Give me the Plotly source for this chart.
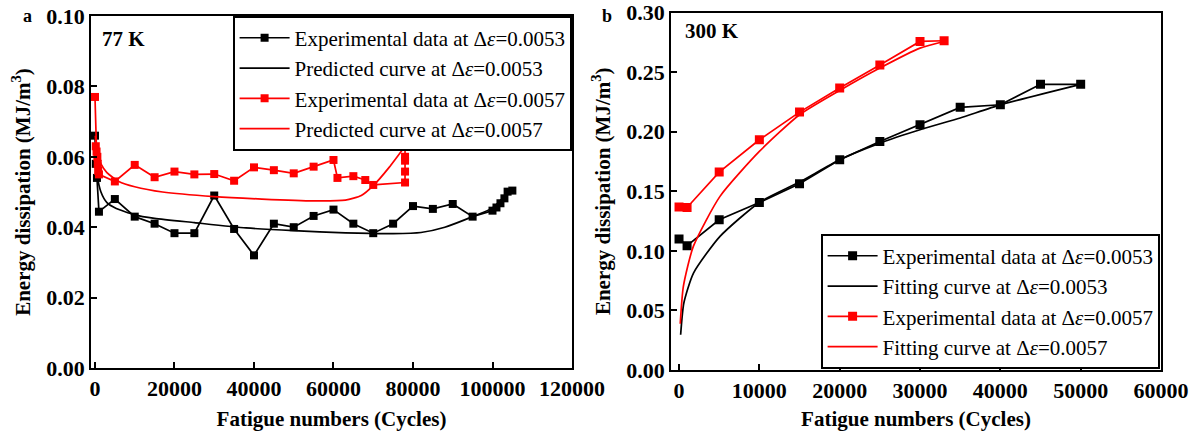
import plotly.graph_objects as go

# ---------------- Panel a (77 K) ----------------
a_exp53_x = [0, 200, 500, 1000, 5000, 10000, 15000, 20000, 25000, 30000, 35000, 40000,
             45000, 50000, 55000, 60000, 65000, 70000, 75000, 80000, 85000, 90000, 95000,
             100000, 101000, 102000, 103000, 103800, 105000]
a_exp53_y = [0.066, 0.058, 0.054, 0.0444, 0.048, 0.043, 0.041, 0.0383, 0.0383, 0.049, 0.0395,
             0.032, 0.041, 0.040, 0.0432, 0.045, 0.041, 0.0383, 0.041, 0.046, 0.0452, 0.0466,
             0.043, 0.0447, 0.0456, 0.0468, 0.0482, 0.0501, 0.0504]

a_pred53_x = [100, 500, 1500, 3000, 5000, 10000, 15000, 25000, 38000, 50000, 63000, 75000,
              82000, 88000, 95000, 100000, 104000]
a_pred53_y = [0.060, 0.055, 0.050, 0.047, 0.0455, 0.0435, 0.0425, 0.0413, 0.0398, 0.039,
              0.0384, 0.0382, 0.0385, 0.040, 0.043, 0.0455, 0.050]

a_exp57_x = [0, 200, 400, 600, 700, 800, 1000, 5000, 10000, 15000, 20000, 25000, 30000, 35000,
             40000, 45000, 50000, 55000, 60000, 61000, 65000, 68000, 70000, 78000, 78000,
             78000, 78000, 78000]
a_exp57_y = [0.077, 0.063, 0.0615, 0.060, 0.058, 0.056, 0.055, 0.053, 0.0577, 0.0542, 0.0558,
             0.055, 0.0551, 0.0532, 0.057, 0.0562, 0.0553, 0.0572, 0.0591, 0.054, 0.0545,
             0.0534, 0.052, 0.0527, 0.0558, 0.0589, 0.060, 0.0629]

a_pred57_x = [100, 500, 1500, 3000, 6000, 10000, 17000, 30000, 42000, 55000, 63000, 67000,
              70000, 74000, 78000]
a_pred57_y = [0.066, 0.061, 0.058, 0.0555, 0.053, 0.0515, 0.050, 0.0487, 0.048, 0.0475,
              0.0477, 0.049, 0.0518, 0.057, 0.063]

# ---------------- Panel b (300 K) ----------------
b_exp53_x = [0, 1000, 5000, 10000, 15000, 20000, 25000, 30000, 35000, 40000, 45000, 50000]
b_exp53_y = [0.1099, 0.1043, 0.1261, 0.1406, 0.1563, 0.1764, 0.1918, 0.2058, 0.2204, 0.2226,
             0.2397, 0.2397]

b_fit53_x = [200, 600, 1800, 5100, 10000, 15000, 20000, 25000, 30000, 35000, 40000, 50000]
b_fit53_y = [0.0296, 0.0562, 0.0813, 0.1121, 0.1406, 0.1577, 0.1764, 0.1904, 0.2016, 0.2115,
             0.2225, 0.2397]

b_exp57_x = [0, 1000, 5000, 10000, 15000, 20000, 25000, 30000, 33000]
b_exp57_y = [0.1367, 0.1364, 0.1661, 0.1932, 0.2164, 0.2366, 0.2559, 0.2757, 0.2763]

b_fit57_x = [150, 540, 1780, 5100, 10000, 15000, 20000, 25000, 30000, 33000]
b_fit57_y = [0.0388, 0.0701, 0.1037, 0.1457, 0.1834, 0.2142, 0.2346, 0.2534, 0.2701, 0.2757]

a_xticks = [0, 20000, 40000, 60000, 80000, 100000, 120000]
a_yticks = [0.00, 0.02, 0.04, 0.06, 0.08, 0.10]
b_xticks = [0, 10000, 20000, 30000, 40000, 50000, 60000]
b_yticks = [0.00, 0.05, 0.10, 0.15, 0.20, 0.25, 0.30]

FONT = "Liberation Serif"
BLACK = "#000000"
RED = "#ff0000"
W, H = 1196, 431

fig = go.Figure()

def exp_trace(x, y, color, name, xa, ya, leg, size):
    return go.Scatter(x=x, y=y, mode="lines+markers", name=name, xaxis=xa, yaxis=ya,
                      legend=leg, line=dict(color=color, width=1.7),
                      marker=dict(symbol="square", size=size, color=color))

def curve_trace(x, y, color, name, xa, ya, leg):
    return go.Scatter(x=x, y=y, mode="lines", name=name, xaxis=xa, yaxis=ya, legend=leg,
                      line=dict(color=color, width=1.7, shape="spline", smoothing=0.6))

d = "Δ<i>ε</i>"
fig.add_trace(exp_trace(a_exp53_x, a_exp53_y, BLACK, f"Experimental data at {d}=0.0053", "x", "y", "legend", 8))
fig.add_trace(curve_trace(a_pred53_x, a_pred53_y, BLACK, f"Predicted curve at {d}=0.0053", "x", "y", "legend"))
fig.add_trace(exp_trace(a_exp57_x, a_exp57_y, RED, f"Experimental data at {d}=0.0057", "x", "y", "legend", 8))
fig.add_trace(curve_trace(a_pred57_x, a_pred57_y, RED, f"Predicted curve at {d}=0.0057", "x", "y", "legend"))

fig.add_trace(exp_trace(b_exp53_x, b_exp53_y, BLACK, f"Experimental data at {d}=0.0053", "x2", "y2", "legend2", 9))
fig.add_trace(curve_trace(b_fit53_x, b_fit53_y, BLACK, f"Fitting curve at {d}=0.0053", "x2", "y2", "legend2"))
fig.add_trace(exp_trace(b_exp57_x, b_exp57_y, RED, f"Experimental data at {d}=0.0057", "x2", "y2", "legend2", 9))
fig.add_trace(curve_trace(b_fit57_x, b_fit57_y, RED, f"Fitting curve at {d}=0.0057", "x2", "y2", "legend2"))

axis_common = dict(showline=True, linecolor=BLACK, linewidth=1.7, mirror=True,
                   ticks="inside", ticklen=6, tickwidth=1.5, tickcolor=BLACK,
                   showgrid=False, zeroline=False, automargin=False,
                   tickfont=dict(family=FONT, size=22, color=BLACK, weight="bold"))
title_font = dict(family=FONT, size=21, color=BLACK, weight="bold")

ya_title = "Energy dissipation (MJ/m<sup>3</sup>)"
xa_title = "Fatigue numbers (Cycles)"

leg_font = dict(family=FONT, size=21, color=BLACK)

fig.update_layout(
    width=W, height=H, autosize=False,
    margin=dict(l=0, r=0, t=0, b=0),
    paper_bgcolor="white", plot_bgcolor="white",
    font=dict(family=FONT, color=BLACK),
    xaxis=dict(domain=[91 / W, 572 / W], range=[-1000, 120000], tickvals=a_xticks,
               tickformat="d", anchor="y",
               title=dict(text=xa_title, font=title_font, standoff=12), **axis_common),
    yaxis=dict(domain=[(H - 368) / H, (H - 16) / H], range=[0, 0.10], tickvals=a_yticks,
               tickformat=".2f", anchor="x",
               title=dict(text=ya_title, font=title_font, standoff=10), **axis_common),
    xaxis2=dict(domain=[671 / W, 1161 / W], range=[-1000, 60000], tickvals=b_xticks,
                tickformat="d", anchor="y2",
                title=dict(text=xa_title, font=title_font, standoff=12), **axis_common),
    yaxis2=dict(domain=[(H - 370) / H, (H - 12.5) / H], range=[0, 0.30], tickvals=b_yticks,
                tickformat=".2f", anchor="x2",
                title=dict(text=ya_title, font=title_font, standoff=10), **axis_common),
    legend=dict(x=572 / W, y=(H - 16) / H, xanchor="right", yanchor="top",
                bgcolor="white", bordercolor=BLACK, borderwidth=1.6,
                font=leg_font, itemwidth=50, tracegroupgap=0),
    legend2=dict(x=1160 / W, y=(H - 369) / H, xanchor="right", yanchor="bottom",
                 bgcolor="white", bordercolor=BLACK, borderwidth=1.6,
                 font=leg_font, itemwidth=50, tracegroupgap=0),
    annotations=[
        dict(text="<b>a</b>", x=27 / W, y=(H - 16) / H, xref="paper", yref="paper",
             xanchor="center", yanchor="middle", showarrow=False,
             font=dict(family=FONT, size=18, color=BLACK)),
        dict(text="<b>b</b>", x=607 / W, y=(H - 16) / H, xref="paper", yref="paper",
             xanchor="center", yanchor="middle", showarrow=False,
             font=dict(family=FONT, size=18, color=BLACK)),
        dict(text="<b>77 K</b>", x=100 / W, y=(H - 39) / H, xref="paper", yref="paper",
             xanchor="left", yanchor="middle", showarrow=False,
             font=dict(family=FONT, size=21, color=BLACK)),
        dict(text="<b>300 K</b>", x=683 / W, y=(H - 31) / H, xref="paper", yref="paper",
             xanchor="left", yanchor="middle", showarrow=False,
             font=dict(family=FONT, size=21, color=BLACK)),
    ],
)

fig.write_html("out.html", post_script="document.body.style.margin='0';",
               config={"displayModeBar": False})
